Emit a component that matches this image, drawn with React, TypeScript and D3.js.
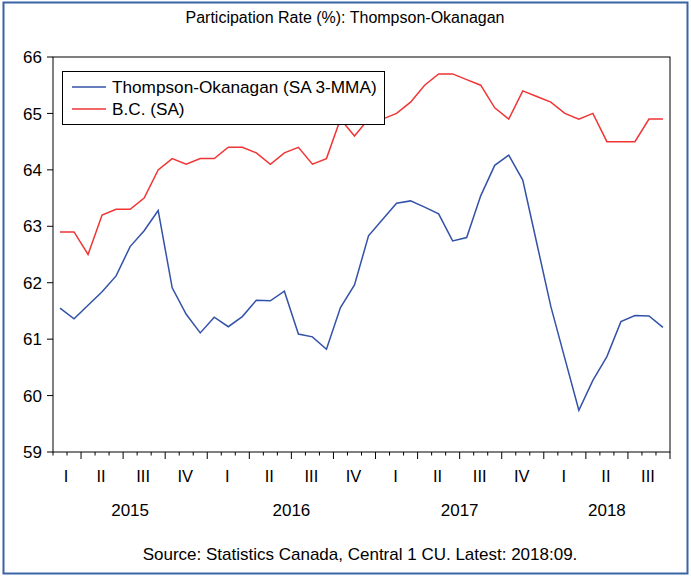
import React, { useEffect, useRef } from 'react';
import * as d3 from 'd3';

// monthly observations, Feb 2015 .. Sep 2018
const startYear = 2015;
const startMonth = 1; // 0-based, February
const thompsonOkanagan = [
  61.55, 61.36, 61.6, 61.84, 62.12, 62.64, 62.92, 63.28, 61.91, 61.44, 61.11,
  61.39, 61.22, 61.4, 61.69, 61.68, 61.85, 61.09, 61.04, 60.82, 61.56, 61.96,
  62.83, 63.12, 63.41, 63.45, 63.34, 63.22, 62.74, 62.8, 63.54, 64.08, 64.26,
  63.82, 62.7, 61.58, 60.66, 59.74, 60.27, 60.69, 61.31, 61.42, 61.41, 61.21,
];
const bc = [
  62.9, 62.9, 62.5, 63.2, 63.3, 63.3, 63.5, 64.0, 64.2, 64.1, 64.2,
  64.2, 64.4, 64.4, 64.3, 64.1, 64.3, 64.4, 64.1, 64.2, 64.9, 64.6,
  64.9, 64.9, 65.0, 65.2, 65.5, 65.7, 65.7, 65.6, 65.5, 65.1, 64.9,
  65.4, 65.3, 65.2, 65.0, 64.9, 65.0, 64.5, 64.5, 64.5, 64.9, 64.9,
];
const yTicks = [59, 60, 61, 62, 63, 64, 65, 66];
const quarterNames = ['I', 'II', 'III', 'IV'];
const seriesNames = ['Thompson-Okanagan (SA 3-MMA)', 'B.C. (SA)'];
const title = 'Participation Rate (%): Thompson-Okanagan';
const source = 'Source: Statistics Canada, Central 1 CU. Latest: 2018:09.';

const FONT = '"Liberation Sans", Arial, sans-serif';
const BLUE = '#3352a8';
const RED = '#f03434';

const Chart = () => {
  const svgRef = useRef<SVGSVGElement>(null);

  useEffect(() => {
    const svg = d3.select(svgRef.current);
    svg.selectAll('*').remove();

    const width = 691;
    const height = 579;
    const left = 53, right = 670, top = 57, bottom = 452;
    const n = bc.length;

    const x = d3.scaleLinear().domain([0, n]).range([left, right]);
    const y = d3.scaleLinear().domain([59, 66]).range([bottom, top]);

    // outer frame
    svg.append('rect')
      .attr('x', 3.5).attr('y', 2.5)
      .attr('width', width - 7).attr('height', height - 8)
      .attr('fill', 'white')
      .attr('stroke', '#3b63a6')
      .attr('stroke-width', 2);

    // title
    svg.append('text')
      .attr('x', 345).attr('y', 23)
      .attr('text-anchor', 'middle')
      .attr('font-family', FONT).attr('font-size', 16)
      .text(title);

    // y axis ticks + labels
    const yAxis = svg.append('g');
    yTicks.forEach(t => {
      yAxis.append('line')
        .attr('x1', left - 6).attr('x2', left)
        .attr('y1', y(t)).attr('y2', y(t))
        .attr('stroke', '#000');
      yAxis.append('text')
        .attr('x', 42).attr('y', y(t))
        .attr('dy', '0.36em')
        .attr('text-anchor', 'end')
        .attr('font-family', FONT).attr('font-size', 17)
        .text(t);
    });

    // x axis: month boundaries, quarters longer
    const xAxis = svg.append('g');
    for (let k = 0; k <= n; k++) {
      const m = (startMonth + k) % 12;
      const major = m % 3 === 0;
      xAxis.append('line')
        .attr('x1', x(k)).attr('x2', x(k))
        .attr('y1', bottom).attr('y2', bottom + (major ? 7 : 3.5))
        .attr('stroke', '#000');
    }

    // quarter labels and year labels
    const quarters = d3.groups(d3.range(n), i => {
      const abs = startMonth + i;
      return `${Math.floor(abs / 12)}-${Math.floor((abs % 12) / 3)}`;
    });
    quarters.forEach(([key, idx]) => {
      const q = +key.split('-')[1];
      const cx = (x(idx[0]) + x(idx[idx.length - 1] + 1)) / 2;
      xAxis.append('text')
        .attr('x', cx - 1).attr('y', 482)
        .attr('text-anchor', 'middle')
        .attr('font-family', FONT).attr('font-size', 16.5)
        .text(quarterNames[q]);
    });
    const years = d3.groups(d3.range(n), i => Math.floor((startMonth + i) / 12));
    years.forEach(([yr, idx]) => {
      const cx = (x(idx[0]) + x(idx[idx.length - 1] + 1)) / 2;
      xAxis.append('text')
        .attr('x', cx).attr('y', 516)
        .attr('text-anchor', 'middle')
        .attr('font-family', FONT).attr('font-size', 17)
        .text(startYear + yr);
    });

    // lines
    const line = d3.line<number>()
      .x((d, i) => x(i + 0.5))
      .y(d => y(d));

    svg.append('path')
      .datum(bc)
      .attr('fill', 'none')
      .attr('stroke', RED)
      .attr('stroke-width', 1.5)
      .attr('d', line);

    svg.append('path')
      .datum(thompsonOkanagan)
      .attr('fill', 'none')
      .attr('stroke', BLUE)
      .attr('stroke-width', 1.5)
      .attr('d', line);

    // plot frame
    svg.append('rect')
      .attr('x', left).attr('y', top)
      .attr('width', right - left).attr('height', bottom - top)
      .attr('fill', 'none')
      .attr('stroke', '#000');

    // legend
    const lg = svg.append('g');
    lg.append('rect')
      .attr('x', 62.5).attr('y', 71.5)
      .attr('width', 322).attr('height', 53)
      .attr('fill', 'white')
      .attr('stroke', '#000');
    [BLUE, RED].forEach((c, i) => {
      const ly = 87 + i * 22;
      lg.append('line')
        .attr('x1', 72).attr('x2', 106)
        .attr('y1', ly).attr('y2', ly)
        .attr('stroke', c).attr('stroke-width', 1.3);
      lg.append('text')
        .attr('x', 112).attr('y', ly)
        .attr('dy', '0.36em')
        .attr('font-family', FONT).attr('font-size', 17.2)
        .text(seriesNames[i]);
    });

    // source note
    svg.append('text')
      .attr('x', 360).attr('y', 560)
      .attr('text-anchor', 'middle')
      .attr('font-family', FONT).attr('font-size', 17)
      .text(source);
  }, []);

  return (
    <svg ref={svgRef} width="691" height="579"
      style={{ position: 'absolute', left: 0, top: 0, display: 'block' }}></svg>
  );
};

export default function App() {
  return <Chart />;
}
